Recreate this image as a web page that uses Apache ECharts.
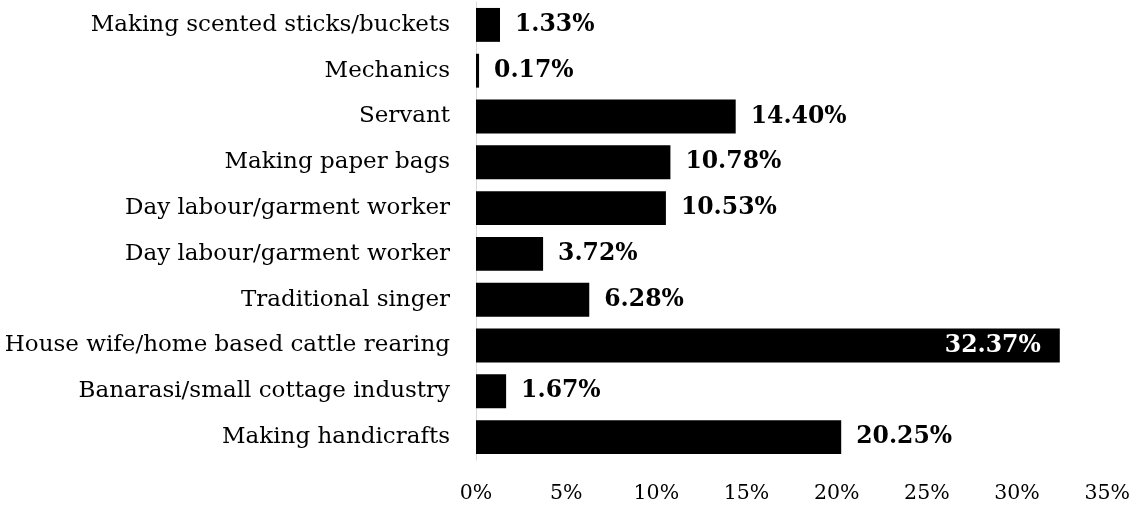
<!DOCTYPE html>
<html>
<head>
<meta charset="utf-8">
<script src="https://cdn.jsdelivr.net/npm/echarts@6/dist/echarts.min.js"></script>
<style>
  html, body { margin: 0; padding: 0; background: #fff; }
  #chart { width: 1133px; height: 507px; }
</style>
</head>
<body>
<div id="chart"></div>
<script>
// Occupations, listed top to bottom
const categories = [
  'Making scented sticks/buckets',
  'Mechanics',
  'Servant',
  'Making paper bags',
  'Day labour/garment worker',
  'Day labour/garment worker',
  'Traditional singer',
  'House wife/home based cattle rearing',
  'Banarasi/small cottage industry',
  'Making handicrafts'
];
// Share of respondents, percent
const shares = [1.33, 0.17, 14.40, 10.78, 10.53, 3.72, 6.28, 32.37, 1.67, 20.25];
// Value axis ticks
const axisMin = 0, axisMax = 35, axisStep = 5;

const FONT = '"DejaVu Serif", Georgia, serif';
const largest = Math.max(...shares);

const chart = echarts.init(document.getElementById('chart'), null, { renderer: 'canvas' });
chart.setOption({
  animation: false,
  backgroundColor: '#ffffff',
  grid: { left: 476, right: 21, top: 2, bottom: 47, containLabel: false },
  xAxis: {
    type: 'value',
    min: axisMin, max: axisMax, interval: axisStep,
    axisLine: { show: false },
    axisTick: { show: false },
    splitLine: { show: false },
    axisLabel: {
      formatter: '{value}%',
      fontFamily: FONT, fontSize: 20.5, color: '#000',
      margin: 23
    }
  },
  yAxis: {
    type: 'category',
    inverse: true,
    data: categories,
    axisLine: { show: true, lineStyle: { color: '#d9d9d9', width: 1 } },
    axisTick: { show: false },
    axisLabel: { fontFamily: FONT, fontSize: 23, color: '#000', margin: 26 }
  },
  series: [{
    type: 'bar',
    data: shares.map(v => ({
      value: v,
      label: v === largest
        ? { position: 'insideRight', color: '#fff', distance: 19 }
        : {}
    })),
    barCategoryGap: '26%',
    itemStyle: { color: '#000' },
    label: {
      show: true,
      position: 'right',
      distance: 15,
      formatter: p => p.value.toFixed(2) + '%',
      fontFamily: FONT, fontSize: 23.5, fontWeight: 'bold', color: '#000'
    }
  }]
});
</script>
</body>
</html>
